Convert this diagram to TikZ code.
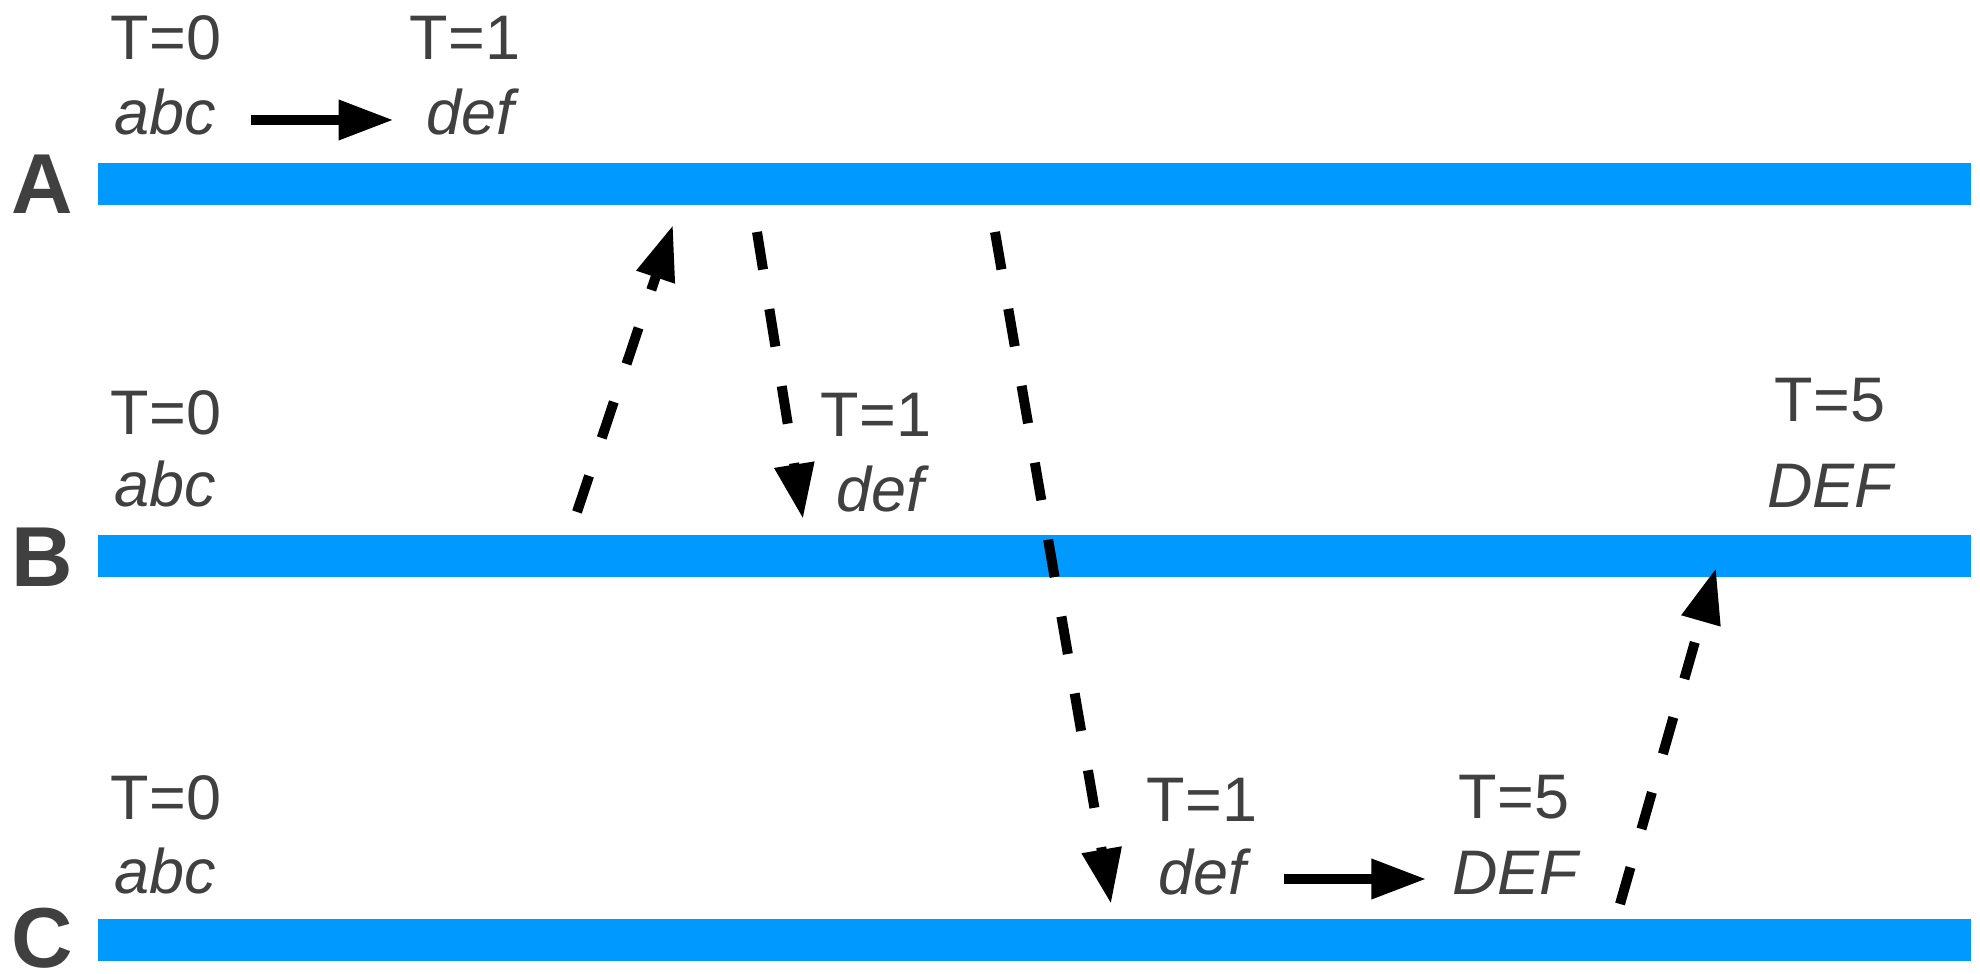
\documentclass[tikz,border=0pt]{standalone}
\usepackage{fontspec}
\setmainfont{Liberation Sans}
\usetikzlibrary{arrows.meta,calc}
\definecolor{lane-blue}{RGB}{0,153,255}
\definecolor{label-grey}{RGB}{64,64,64}

\begin{document}
\begin{tikzpicture}[x=0.01cm,y=-0.01cm]

\tikzstyle{lane}=[fill=lane-blue,minimum width=18.72cm,minimum height=0.42cm,inner sep=0pt,anchor=west]
\tikzstyle{site}=[font=\fontsize{24.2}{28}\selectfont\bfseries,text=label-grey,inner sep=0pt]
\tikzstyle{stamp}=[font=\fontsize{17.9}{21}\selectfont,text=label-grey,inner sep=0pt,anchor=base]
\tikzstyle{value}=[stamp,font=\fontsize{17.9}{21}\selectfont\itshape]
\tikzstyle{flow}=[-{Triangle[length=0.55cm,width=0.38cm]},line width=0.1cm]
\tikzstyle{msg}=[flow,dash pattern=on 0.38cm off 0.40cm]

\useasboundingbox (0,0) rectangle (1980,974);

% replicas
\node[lane] (laneA) at (97,184) {};
\node[lane] (laneB) at (97,556) {};
\node[lane] (laneC) at (97,940) {};

\node[site] (siteA) at (42,184) {A};
\node[site] (siteB) at (42,557) {B};
\node[site] (siteC) at (42,938) {C};

% row A
\node[stamp] (tA0) at (166,60) {T=0};
\node[value] (vA0) at (165,135) {abc};
\node[stamp] (tA1) at (465,60) {T=1};
\node[value] (vA1) at (470,135) {def};

% row B
\node[stamp] (tB0) at (166,435) {T=0};
\node[value] (vB0) at (165,507) {abc};
\node[stamp] (tB1) at (876,437) {T=1};
\node[value] (vB1) at (880,512) {def};
\node[stamp] (tB5) at (1830,422) {T=5};
\node[value] (vB5) at (1830,508) {DEF};

% row C
\node[stamp] (tC0) at (166,820) {T=0};
\node[value] (vC0) at (165,893) {abc};
\node[stamp] (tC1) at (1202,821) {T=1};
\node[value] (vC1) at (1202,894) {def};
\node[stamp] (tC5) at (1514,818) {T=5};
\node[value] (vC5) at (1515,894) {DEF};

% local updates
\draw[flow] ($(vA0.base east)+(35,-15)$) -- ($(vA1.base west)+(-32,-15)$);
\draw[flow] ($(vC1.base east)+(38,-15)$) -- ($(vC5.base west)+(-25,-15)$);

% replication messages
\coordinate (m1s) at (577,512);
\coordinate (m1e) at (673,225);
\coordinate (m2s) at (757,232);
\coordinate (m2e) at (803,519);
\coordinate (m3s) at (995,232);
\coordinate (m3e) at (1111,904);
\coordinate (m4s) at (1620,904);
\coordinate (m4e) at (1716,568);

\draw[msg] (m1s) -- (m1e);
\draw[msg] (m2s) -- (m2e);
\draw[msg] (m3s) -- (m3e);
\draw[msg] (m4s) -- (m4e);

\end{tikzpicture}
\end{document}
